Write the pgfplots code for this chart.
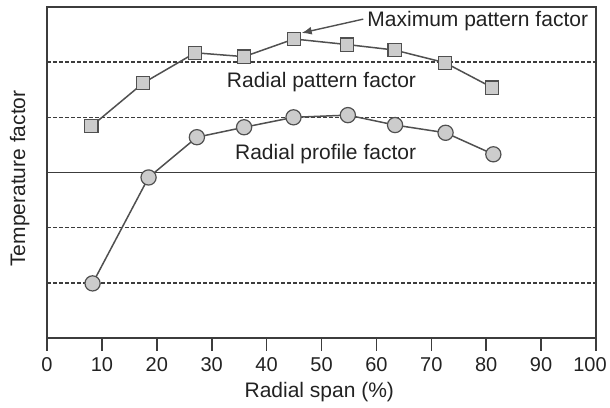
\documentclass[border=0pt]{standalone}
\usepackage{fontspec}
\setmainfont{Liberation Sans}
\usepackage{pgfplots}
\pgfplotsset{compat=1.18}
\usetikzlibrary{arrows.meta}

\definecolor{axiscol}{HTML}{3C3C3C}
\definecolor{linecol}{HTML}{505050}
\definecolor{markfill}{HTML}{CCCCCC}
\definecolor{txtcol}{HTML}{222222}

\begin{document}
\fontsize{10.5}{12.6}\selectfont
\begin{tikzpicture}
\begin{axis}[
    scale only axis,
    width=274.5pt, height=165.5pt,
    xmin=0, xmax=100, ymin=0, ymax=6,
    clip=false,
    axis line style={draw=axiscol, line width=0.8pt},
    xtick={0,10,...,100},
    xticklabels={0,10,20,30,40,50,60,70,80,90,\kern-6pt100},
    xtick pos=bottom,
    tick align=outside,
    major tick length=6.3pt,
    xtick style={draw=axiscol, line width=0.8pt},
    ytick={1,2,4,5},
    yticklabels={},
    ytick style={draw=none},
    ymajorgrids=true,
    major grid style={draw=axiscol, line width=0.7pt, dash pattern=on 2pt off 1pt},
    extra y ticks={3},
    extra y tick labels={},
    extra y tick style={grid=major, major grid style={draw=axiscol, line width=0.8pt, solid}},
    /pgf/number format/assume math mode=true,
    tick label style={text=txtcol, font=\fontsize{10}{12}\selectfont},
    xlabel={Radial span (\%)},
    ylabel={Temperature factor},
    xlabel style={at={(axis description cs:0.496,-0.181)}, anchor=base, inner sep=0pt, text=txtcol},
    ylabel style={at={(axis description cs:-0.040,0.482)}, anchor=base, rotate=0, inner sep=0pt, text=txtcol},
]
\coordinate (sw) at (rel axis cs:0,0);
\coordinate (ne) at (rel axis cs:1,1);

% radial pattern factor (squares)
\addplot[draw=linecol, line width=0.75pt, mark=square*, mark size=3.3pt,
    mark options={fill=markfill, draw=linecol, line width=0.6pt, solid}]
coordinates {
    (8.1,3.84) (17.5,4.62) (27.0,5.17) (35.9,5.10) (45.0,5.42)
    (54.6,5.32) (63.3,5.22) (72.5,4.99) (81.1,4.54)
};

% radial profile factor (circles)
\addplot[draw=linecol, line width=0.75pt, mark=*, mark size=3.8pt,
    mark options={fill=markfill, draw=linecol, line width=0.6pt, solid}]
coordinates {
    (8.3,0.99) (18.5,2.91) (27.3,3.64) (35.9,3.82) (44.9,4.00)
    (54.8,4.04) (63.4,3.86) (72.6,3.72) (81.3,3.33)
};

\node[anchor=base west, inner sep=0pt, text=txtcol] at (axis cs:58.3,5.65) {Maximum pattern factor};
\draw[draw=linecol, line width=0.7pt, -{Latex[length=5pt,width=4pt]}]
    (axis cs:57.6,5.78) -- (axis cs:46.4,5.53);
\node[anchor=base west, inner sep=0pt, text=txtcol] at (axis cs:32.7,4.54) {Radial pattern factor};
\node[anchor=base west, inner sep=0pt, text=txtcol] at (axis cs:34.2,3.24) {Radial profile factor};
\end{axis}
\pgfresetboundingbox
\path[use as bounding box] ([shift={(-23.5pt,-34.5pt)}]sw) rectangle ([shift={(7pt,3.5pt)}]ne);
\end{tikzpicture}
\end{document}
